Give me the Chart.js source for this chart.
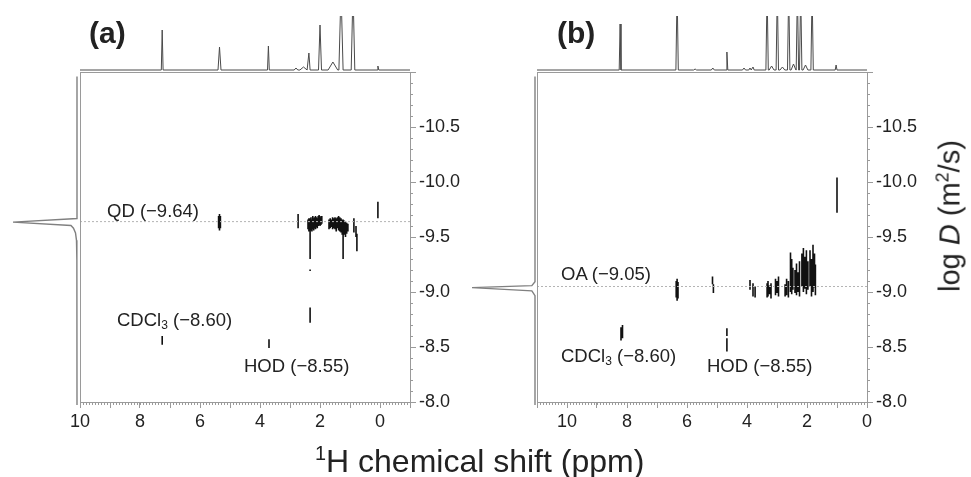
<!DOCTYPE html>
<html lang="en">
<head>
<meta charset="UTF-8">
<title>DOSY spectra: QD and OA</title>
<script src="https://cdn.jsdelivr.net/npm/chart.js@4.4.1/dist/chart.umd.min.js"></script>
<style>
    body { margin: 0; background: #fff; font-family: "Liberation Sans", Arial, sans-serif; color: #222; }
    #page { position: relative; width: 971px; height: 477px; overflow: hidden; }
    canvas { position: absolute; }
    .lbl { position: absolute; white-space: nowrap; line-height: 1; }
    .note { font-size: 18.5px; }
    .panel { font-size: 30px; font-weight: bold; }
    sub { font-size: 65%; vertical-align: -0.25em; line-height: 0; }
    sup { font-size: 62%; vertical-align: 0.62em; line-height: 0; }
</style>
</head>
<body>
<div id="page">
    <canvas id="specA" width="330" height="80" style="left:80px;top:0"></canvas>
    <canvas id="specB" width="330" height="80" style="left:537px;top:0"></canvas>
    <canvas id="projA" width="80" height="336" style="left:0;top:72px"></canvas>
    <canvas id="projB" width="80" height="336" style="left:460px;top:72px"></canvas>
    <canvas id="dosyA" width="414" height="384" style="left:66px;top:58px"></canvas>
    <canvas id="dosyB" width="414" height="384" style="left:523px;top:58px"></canvas>

    <div class="lbl panel" style="left:89px;top:18px">(a)</div>
    <div class="lbl panel" style="left:557px;top:18px">(b)</div>

    <div class="lbl note" style="left:107px;top:202px">QD (&minus;9.64)</div>
    <div class="lbl note" style="left:117px;top:311px">CDCl<sub>3</sub> (&minus;8.60)</div>
    <div class="lbl note" style="left:244px;top:357px">HOD (&minus;8.55)</div>
    <div class="lbl note" style="left:561px;top:265px">OA (&minus;9.05)</div>
    <div class="lbl note" style="left:561px;top:347px">CDCl<sub>3</sub> (&minus;8.60)</div>
    <div class="lbl note" style="left:707px;top:357px">HOD (&minus;8.55)</div>

    <div class="lbl" style="left:315px;top:445px;font-size:32px"><sup>1</sup>H chemical shift (ppm)</div>
    <div class="lbl" style="left:950px;top:216px;font-size:29px;transform:translate(-50%,-50%) rotate(-90deg)">log <i>D</i> (m<sup>2</sup>/s)</div>
</div>

<script>
    // axis ranges and tick labels
    const shiftRangeA = [-1, 10];
    const shiftRangeB = [0, 11];
    const logDRange = [-11, -8];
    const shiftTicks = [10, 8, 6, 4, 2, 0];
    const logDTicks = [-10.5, -10.0, -9.5, -9.0, -8.5, -8.0];

    // diffusion coefficient of the main species (dotted line)
    const qdLogD = -9.64;
    const oaLogD = -9.05;

    // 1H spectra on top: [ppm, intensity, half width in ppm]
    const peaksA = [
        [7.26, 40, 0.03], [5.35, 23, 0.05], [3.72, 24, 0.03], [2.80, 2, 0.06],
        [2.55, 3, 0.12], [2.37, 17, 0.04], [2.00, 45, 0.05], [1.57, 8, 0.16],
        [1.30, 80, 0.07], [0.90, 80, 0.06], [0.07, 4, 0.03]
    ];
    const peaksB = [
        [8.23, 46, 0.03], [6.33, 80, 0.04], [5.73, 1, 0.05], [5.14, 2, 0.05],
        [4.67, 18, 0.03], [4.10, 2, 0.05], [3.90, 2, 0.04], [3.80, 3, 0.04],
        [3.33, 80, 0.04], [3.18, 4, 0.08], [2.99, 80, 0.04], [2.82, 3, 0.08],
        [2.61, 80, 0.04], [2.45, 6, 0.08], [2.32, 80, 0.04], [2.21, 80, 0.04],
        [2.05, 5, 0.08], [1.83, 80, 0.04], [1.03, 5, 0.03]
    ];

    // diffusion projections on the left: [logD, intensity]
    const projProfileA = [
        [-10.96, 0], [-9.668, 0], [-9.635, 1], [-9.605, 0.094], [-9.58, 0.055],
        [-9.536, 0.023], [-9.47, 0.008], [-9.29, 0.002], [-7.973, 0]
    ];
    const projProfileB = [
        [-10.96, 0], [-9.094, 0], [-9.058, 0.05], [-9.04, 1], [-9.01, 0.05],
        [-8.966, 0], [-7.973, 0]
    ];

    // DOSY cross peaks: [ppm, logD upper end, logD lower end]
    const contoursA = [
        [7.26, -8.60, -8.52], [3.70, -8.57, -8.49],
        [5.38, -9.69, -9.58], [5.35, -9.71, -9.56], [5.32, -9.69, -9.58],
        [2.73, -9.71, -9.58],
        [2.40, -9.66, -9.57], [2.37, -9.67, -9.55], [2.33, -9.67, -9.30], [2.30, -9.68, -9.56],
        [2.27, -9.66, -9.55], [2.24, -9.69, -9.57], [2.21, -9.67, -9.56], [2.18, -9.68, -9.58],
        [2.15, -9.69, -9.57], [2.12, -9.68, -9.59], [2.09, -9.67, -9.58], [2.06, -9.69, -9.60],
        [2.03, -9.70, -9.61], [2.00, -9.69, -9.60], [1.97, -9.68, -9.61], [1.94, -9.69, -9.62],
        [2.33, -8.86, -8.72], [2.33, -9.205, -9.19],
        [1.70, -9.66, -9.57], [1.66, -9.67, -9.58], [1.62, -9.66, -9.59], [1.58, -9.68, -9.57],
        [1.54, -9.67, -9.58], [1.50, -9.68, -9.57], [1.46, -9.67, -9.55], [1.42, -9.68, -9.58],
        [1.38, -9.69, -9.56], [1.34, -9.68, -9.55], [1.30, -9.67, -9.54], [1.26, -9.66, -9.52],
        [1.23, -9.66, -9.30], [1.19, -9.65, -9.52], [1.15, -9.64, -9.50], [1.11, -9.63, -9.53],
        [1.07, -9.62, -9.55],
        [0.87, -9.67, -9.54], [0.80, -9.60, -9.50], [0.77, -9.53, -9.37],
        [0.07, -9.82, -9.67]
    ];
    const contoursB = [
        [8.20, -8.68, -8.56], [8.15, -8.70, -8.58],
        [4.67, -8.67, -8.60], [4.67, -8.58, -8.46],
        [6.36, -9.10, -8.95], [6.33, -9.12, -8.92], [6.30, -9.09, -8.94],
        [5.15, -9.14, -9.07], [5.12, -9.07, -8.99],
        [3.90, -9.11, -9.02], [3.80, -9.08, -8.96], [3.73, -9.05, -8.95],
        [3.33, -9.08, -8.95], [3.30, -9.10, -8.96], [3.25, -9.06, -8.98], [3.20, -9.08, -8.94],
        [3.05, -9.12, -8.97], [3.00, -9.10, -8.99], [2.95, -9.14, -8.96],
        [2.73, -9.07, -8.96], [2.68, -9.12, -8.97], [2.62, -9.10, -8.95],
        [2.55, -9.36, -9.00], [2.51, -9.30, -8.98], [2.47, -9.22, -9.02],
        [2.40, -9.20, -8.99], [2.35, -9.26, -8.97], [2.30, -9.18, -9.00], [2.25, -9.28, -8.96],
        [2.17, -9.35, -9.05], [2.12, -9.40, -9.00], [2.07, -9.32, -9.03], [2.02, -9.38, -8.98],
        [1.97, -9.28, -9.02], [1.90, -9.38, -9.05], [1.85, -9.30, -8.96], [1.80, -9.43, -9.00],
        [1.75, -9.35, -9.04], [1.72, -9.25, -8.97],
        [1.00, -10.04, -9.72]
    ];

    const grey = '#9a9a9a';
    const tickFont = { family: '"Liberation Sans", Arial, sans-serif', size: 18 };

    // box outline + small minor ticks (every 0.1 on both axes)
    const frame = {
        id: 'frame',
        afterDatasetsDraw(chart) {
            const { ctx, chartArea: a, scales: { x, y } } = chart;
            ctx.save();
            ctx.strokeStyle = grey;
            ctx.lineWidth = 1;
            ctx.strokeRect(Math.round(a.left) + 0.5, Math.round(a.top) + 0.5,
                Math.round(a.right - a.left), Math.round(a.bottom - a.top));
            ctx.beginPath();
            const nx = Math.round((x.max - x.min) / 0.1);
            for (let i = 0; i <= nx; i++) {
                const px = Math.round(x.getPixelForValue(x.min + i * 0.1)) + 0.5;
                ctx.moveTo(px, a.bottom);
                ctx.lineTo(px, a.bottom + 3);
            }
            const ny = Math.round((y.max - y.min) / 0.1);
            for (let i = 0; i <= ny; i++) {
                const py = Math.round(y.getPixelForValue(y.min + i * 0.1)) + 0.5;
                ctx.moveTo(a.right, py);
                ctx.lineTo(a.right + 3, py);
            }
            ctx.stroke();
            ctx.restore();
        }
    };

    const bare = {
        responsive: false,
        animation: false,
        events: [],
        elements: { point: { radius: 0 }, line: { tension: 0 } },
        plugins: { legend: { display: false }, tooltip: { enabled: false } }
    };

    function dosyChart(id, range, contours, refLogD) {
        let segs = [];
        contours.forEach(([ppm, lo, hi]) => {
            segs.push({ x: ppm, y: lo }, { x: ppm, y: hi }, { x: ppm, y: null });
        });
        return new Chart(document.getElementById(id), {
            type: 'line',
            data: {
                datasets: [
                    { data: [{ x: range[1], y: refLogD }, { x: range[0], y: refLogD }],
                      borderColor: '#b4b4b4', borderWidth: 1, borderDash: [2, 2] },
                    { data: segs, borderColor: '#111', borderWidth: 1.6, spanGaps: false }
                ]
            },
            options: {
                ...bare,
                layout: { padding: { left: 14, top: 14, right: 0, bottom: 0 } },
                scales: {
                    x: {
                        type: 'linear', reverse: true, min: range[0], max: range[1],
                        afterFit: (s) => { s.height = 40; },
                        border: { display: false },
                        grid: { drawOnChartArea: false, tickLength: 6, color: grey },
                        ticks: {
                            stepSize: 1, autoSkip: false, maxRotation: 0, padding: 3,
                            color: '#222', font: tickFont,
                            callback: (v) => shiftTicks.includes(v) ? String(v) : ''
                        }
                    },
                    y: {
                        type: 'linear', position: 'right', reverse: true,
                        min: logDRange[0], max: logDRange[1],
                        afterFit: (s) => { s.width = 70; },
                        border: { display: false },
                        grid: { drawOnChartArea: false, tickLength: 6, color: grey },
                        ticks: {
                            stepSize: 0.5, autoSkip: false, padding: 3,
                            color: '#222', font: tickFont,
                            callback: (v) => logDTicks.includes(v) ? v.toFixed(1) : ''
                        }
                    }
                }
            },
            plugins: [frame]
        });
    }

    function spectrumChart(id, range, peaks) {
        let pts = [{ x: range[1], y: 0 }];
        peaks.slice().sort((p, q) => q[0] - p[0]).forEach(([ppm, h, w]) => {
            pts.push({ x: ppm + w, y: 0 }, { x: ppm, y: h }, { x: ppm - w, y: 0 });
        });
        pts.push({ x: range[0], y: 0 });
        return new Chart(document.getElementById(id), {
            type: 'line',
            data: { datasets: [{ data: pts, borderColor: '#4a4a4a', borderWidth: 1 }] },
            options: {
                ...bare,
                layout: { padding: { left: 0, right: 0, top: 16, bottom: 9 } },
                scales: {
                    x: { type: 'linear', display: false, reverse: true, min: range[0], max: range[1] },
                    y: { type: 'linear', display: false, min: -1, max: 54 }
                }
            }
        });
    }

    function projectionChart(id, profile, pad) {
        return new Chart(document.getElementById(id), {
            type: 'line',
            data: {
                datasets: [{
                    data: profile.map(([logD, inten]) => ({ x: inten, y: logD })),
                    borderColor: '#808080', borderWidth: 1.4, clip: false
                }]
            },
            options: {
                ...bare,
                layout: { padding: pad },
                scales: {
                    x: { type: 'linear', display: false, reverse: true, min: 0, max: 1 },
                    y: { type: 'linear', display: false, reverse: true, min: logDRange[0], max: logDRange[1] }
                }
            }
        });
    }

    spectrumChart('specA', shiftRangeA, peaksA);
    spectrumChart('specB', shiftRangeB, peaksB);
    projectionChart('projA', projProfileA, { left: 13, right: 3, top: 0, bottom: 6 });
    projectionChart('projB', projProfileB, { left: 12, right: 5, top: 0, bottom: 6 });
    dosyChart('dosyA', shiftRangeA, contoursA, qdLogD);
    dosyChart('dosyB', shiftRangeB, contoursB, oaLogD);
</script>
</body>
</html>
